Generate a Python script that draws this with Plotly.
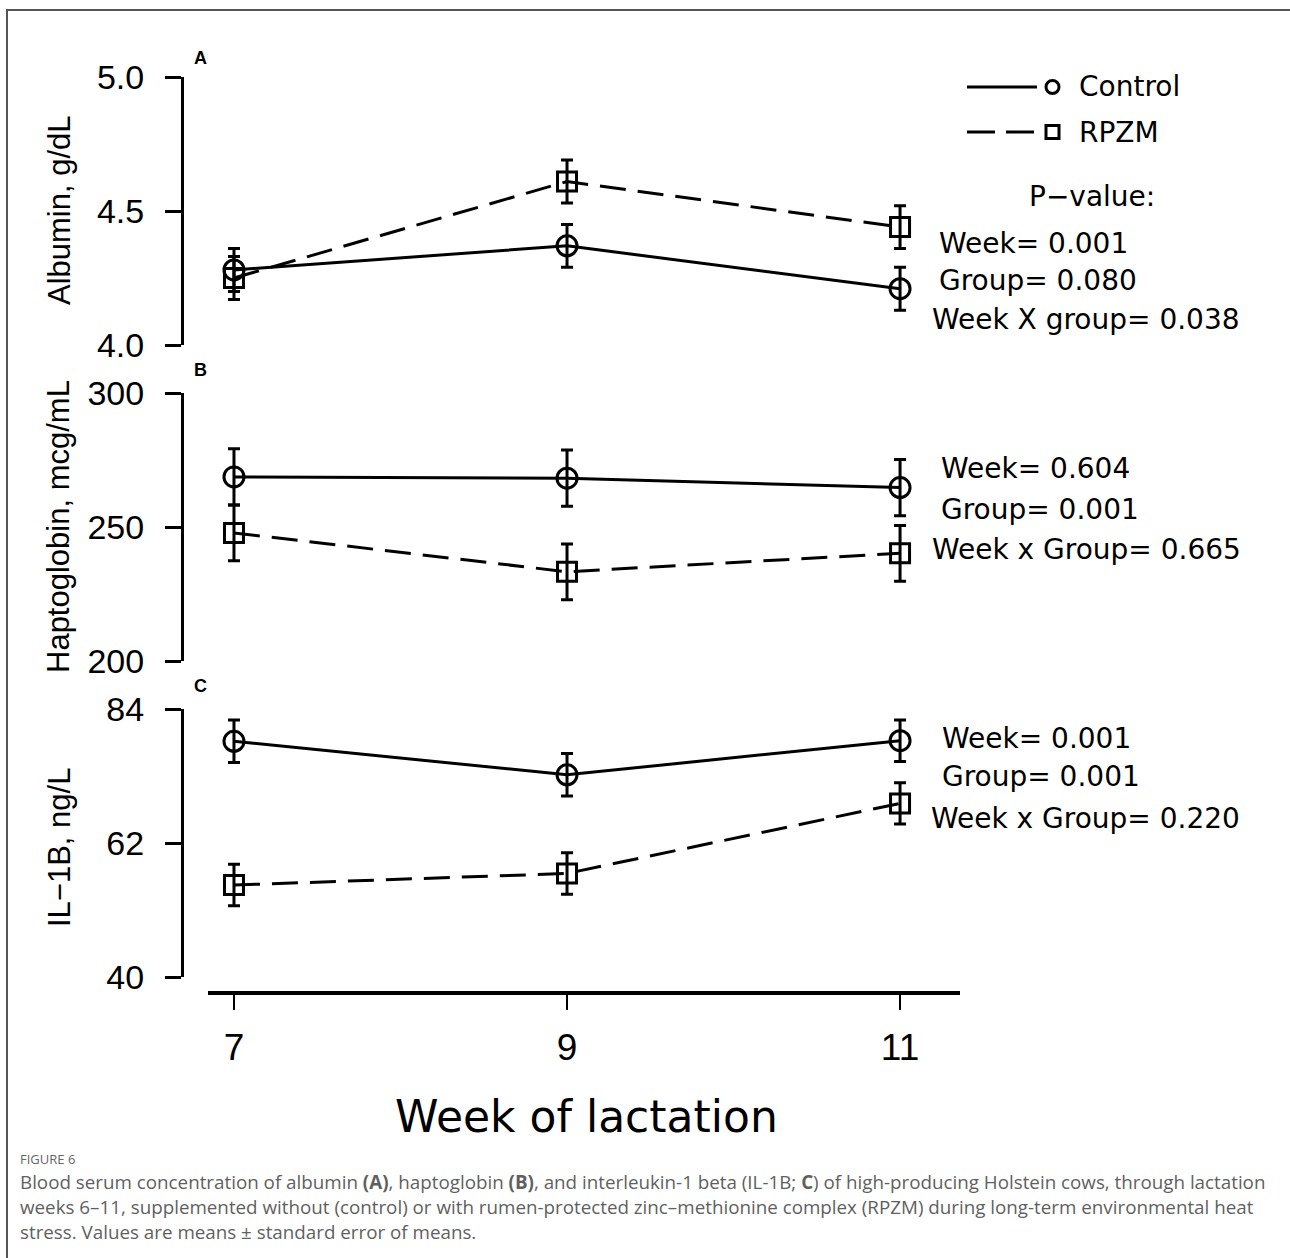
import plotly.graph_objects as go

W, H = 1290, 1258

# ---------------- data ----------------
weeks = [7, 9, 11]
week_ticks = ["7", "9", "11"]

alb_control = [4.28, 4.37, 4.21]
alb_control_se = [0.08, 0.08, 0.08]
alb_rpzm = [4.25, 4.61, 4.44]
alb_rpzm_se = [0.08, 0.08, 0.08]

hap_control = [268.7, 268.2, 264.7]
hap_control_se = [10.5, 10.5, 10.5]
hap_rpzm = [247.8, 233.3, 240.2]
hap_rpzm_se = [10.4, 10.4, 10.4]

il_control = [78.7, 73.2, 78.8]
il_control_se = [3.5, 3.5, 3.4]
il_rpzm = [55.1, 57.0, 68.5]
il_rpzm_se = [3.4, 3.4, 3.4]

alb_ticks = [4.0, 4.5, 5.0]
hap_ticks = [200, 250, 300]
il_ticks = [40, 62, 84]

series_names = ["Control", "RPZM"]
pvals_a = ["Week= 0.001", "Group= 0.080", "Week X group= 0.038"]
pvals_b = ["Week= 0.604", "Group= 0.001", "Week x Group= 0.665"]
pvals_c = ["Week= 0.001", "Group= 0.001", "Week x Group= 0.220"]


def px(x):
    return x / W


def py(y):
    return 1 - y / H


fig = go.Figure()

panels = [
    ("y", alb_control, alb_control_se, alb_rpzm, alb_rpzm_se),
    ("y2", hap_control, hap_control_se, hap_rpzm, hap_rpzm_se),
    ("y3", il_control, il_control_se, il_rpzm, il_rpzm_se),
]

for yax, c, cse, r, rse in panels:
    fig.add_trace(go.Scatter(
        x=weeks, y=c, xaxis="x", yaxis=yax, mode="lines+markers",
        name=series_names[0], showlegend=False,
        line=dict(color="black", width=3),
        marker=dict(symbol="circle-open", size=20, color="black", line=dict(width=3, color="black")),
        error_y=dict(type="data", array=cse, visible=True, color="black", thickness=3, width=6),
    ))
    fig.add_trace(go.Scatter(
        x=weeks, y=r, xaxis="x", yaxis=yax, mode="lines+markers",
        name=series_names[1], showlegend=False,
        line=dict(color="black", width=3, dash="26px,12px"),
        marker=dict(symbol="square-open", size=19, color="black", line=dict(width=3, color="black")),
        error_y=dict(type="data", array=rse, visible=True, color="black", thickness=3, width=6),
    ))

yaxis_common = dict(
    anchor="free", position=px(182), showline=True, linecolor="black", linewidth=3,
    ticks="outside", ticklen=16, tickwidth=3, tickcolor="black", showgrid=False, zeroline=False,
    tickfont=dict(family="Liberation Sans, Arial, sans-serif", size=34, color="black"),
    ticklabelstandoff=14, automargin=False,
)

fig.update_layout(
    width=W, height=H, autosize=False,
    margin=dict(l=0, r=0, t=0, b=0, pad=0, autoexpand=False),
    paper_bgcolor="white", plot_bgcolor="rgba(0,0,0,0)",
    showlegend=False,
    xaxis=dict(
        domain=[px(208), px(960)], range=[6.844, 11.36], anchor="free", position=py(993),
        showline=True, linecolor="black", linewidth=4,
        tickvals=weeks, ticktext=week_ticks, ticks="outside", ticklen=15, tickwidth=2, tickcolor="black",
        tickfont=dict(family="Liberation Sans, Arial, sans-serif", size=37, color="black"),
        showgrid=False, zeroline=False, ticklabelstandoff=6, automargin=False,
    ),
    yaxis=dict(domain=[py(345), py(77)], range=[4.0, 5.0], tickvals=alb_ticks,
               ticktext=["4.0", "4.5", "5.0"], **yaxis_common),
    yaxis2=dict(domain=[py(661), py(393)], range=[200, 300], tickvals=hap_ticks, **yaxis_common),
    yaxis3=dict(domain=[py(977), py(709)], range=[40, 84], tickvals=il_ticks, **yaxis_common),
)

annotations = []
shapes = []

# y-axis titles
ytitle_font = dict(family="Liberation Sans, Arial, sans-serif", size=31, color="black")
for text, yc in [("Albumin, g/dL", 210), ("Haptoglobin, mcg/mL", 527), ("IL\u22121B, ng/L", 848)]:
    annotations.append(dict(text=text, x=px(59), y=py(yc), xref="paper", yref="paper",
                            textangle=-90, showarrow=False, font=ytitle_font,
                            xanchor="center", yanchor="middle"))

# panel letters
for letter, yc in [("A", 58), ("B", 370), ("C", 686)]:
    annotations.append(dict(text="<b>%s</b>" % letter, x=px(192), y=py(yc), xref="paper", yref="paper",
                            showarrow=False, xanchor="left", yanchor="middle",
                            font=dict(family="Liberation Sans, Arial, sans-serif", size=18, color="black")))

# x title
annotations.append(dict(text="Week of lactation", x=px(586), y=py(1116), xref="paper", yref="paper",
                        showarrow=False, xanchor="center", yanchor="middle",
                        font=dict(family="DejaVu Sans, sans-serif", size=44, color="black")))

ptxt_font = dict(family="DejaVu Sans, sans-serif", size=28, color="black")
# legend
for name, yc, dash, sym in [("Control", 87, "solid", "circle"), ("RPZM", 132, "28px,11px", "rect")]:
    shapes.append(dict(type="line", xref="paper", yref="paper", x0=px(967), x1=px(1037),
                       y0=py(yc), y1=py(yc), line=dict(color="black", width=3, dash=dash)))
    shapes.append(dict(type=sym, xref="paper", yref="paper", x0=px(1046), x1=px(1059),
                       y0=py(yc - 6.5), y1=py(yc + 6.5), line=dict(color="black", width=3)))
    annotations.append(dict(text=name, x=px(1077), y=py(yc), xref="paper", yref="paper",
                            showarrow=False, xanchor="left", yanchor="middle", font=ptxt_font))

annotations.append(dict(text="P\u2212value:", x=px(1092), y=py(197), xref="paper", yref="paper",
                        showarrow=False, xanchor="center", yanchor="middle", font=ptxt_font))

for texts, ys, xs in [
    (pvals_a, [243, 281, 319], [937, 937, 930]),
    (pvals_b, [468, 509, 549], [939, 939, 930]),
    (pvals_c, [738, 776, 818], [940, 940, 929]),
]:
    for t, yc, xl in zip(texts, ys, xs):
        annotations.append(dict(text=t, x=px(xl), y=py(yc), xref="paper", yref="paper",
                                showarrow=False, xanchor="left", yanchor="middle", font=ptxt_font))

# border of figure panel
shapes.append(dict(type="rect", xref="paper", yref="paper", x0=px(7), x1=1.02, y0=-0.02, y1=py(10),
                   line=dict(color="#555555", width=2)))

# caption
cap_font = dict(family="Open Sans, sans-serif", size=18.8, color="#5f5f5f")
annotations.append(dict(text="FIGURE 6", x=px(18), y=py(1159), xref="paper", yref="paper",
                        showarrow=False, xanchor="left", yanchor="middle",
                        font=dict(family="Open Sans, sans-serif", size=13, color="#666666")))
cap_lines = [
    "Blood serum concentration of albumin <b>(A)</b>, haptoglobin <b>(B)</b>, and interleukin-1 beta (IL-1B; <b>C</b>) of high-producing Holstein cows, through lactation",
    "weeks 6\u201311, supplemented without (control) or with rumen-protected zinc\u2013methionine complex (RPZM) during long-term environmental heat",
    "stress. Values are means \u00b1 standard error of means.",
]
for line, yc in zip(cap_lines, [1182, 1207, 1232]):
    annotations.append(dict(text=line, x=px(18), y=py(yc), xref="paper", yref="paper",
                            showarrow=False, xanchor="left", yanchor="middle", font=cap_font))

fig.update_layout(annotations=annotations, shapes=shapes)
fig.write_html(
    "out.html",
    config={"responsive": False, "displayModeBar": False},
    post_script="document.body.style.margin='0px';document.body.style.overflow='hidden';",
)
